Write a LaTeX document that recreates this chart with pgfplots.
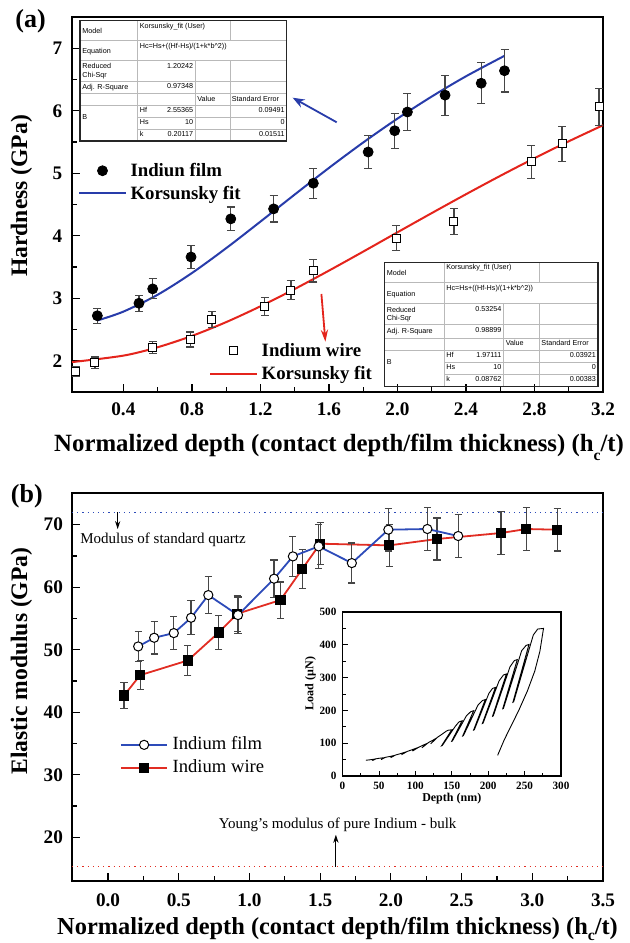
\documentclass[border=0pt]{standalone}
\usepackage{fontspec}
\setmainfont{Liberation Serif}
\newfontfamily\tabfont{Liberation Sans}
\usepackage{pgfplots}
\pgfplotsset{compat=1.18}
\usetikzlibrary{arrows.meta}

\definecolor{fitblue}{RGB}{40,60,170}
\definecolor{fitred}{RGB}{228,36,28}
\definecolor{errgray}{RGB}{70,70,70}
\definecolor{lineblue}{RGB}{45,75,185}
\definecolor{linered}{RGB}{225,45,35}

\pgfplotsset{myaxis/.style={scale only axis, axis line style={line width=0.8pt}, tick align=inside, tick pos=left,
  tick style={black, line width=0.6pt}, major tick length=4pt, minor tick length=2.5pt,
  ticklabel style={font=\fontsize{9.6}{10}\selectfont\bfseries},
  /pgf/number format/assume math mode=true, clip=false}}

\newcommand{\tabf}{\tabfont\fontsize{3.6}{4.3}\selectfont}
\newcommand{\fittable}[6]{%
  \draw[gray!55, line width=0.5pt] (0,20)--(206.5,20) (0,40.3)--(206.5,40.3) (0,60.6)--(206.5,60.6)
     (0,73.3)--(206.5,73.3) (0,85)--(206.5,85) (57.8,97)--(206.5,97) (57.8,108.6)--(206.5,108.6);
  \draw[gray!55, line width=0.5pt] (57.8,0)--(57.8,120.3) (150,0)--(150,20) (115.1,40.3)--(115.1,120.3) (150,40.3)--(150,120.3);
  \draw[black!85, line width=0.7pt] (0,0) rectangle (206.5,120.3);
  \begin{scope}[every node/.style={inner sep=0pt, font=\tabf}]
  \node[anchor=west] at (2,10.5) {Model};
  \node[anchor=north west] at (59.5,1.8) {Korsunsky\_fit (User)};
  \node[anchor=west] at (2,31) {Equation};
  \node[anchor=north west] at (59.5,21.8) {Hc=Hs+((Hf-Hs)/(1+k*b\textasciicircum2))};
  \node[anchor=west, align=left] at (2,50.5) {Reduced\\Chi-Sqr};
  \node[anchor=north east] at (113.5,42) {#1};
  \node[anchor=west] at (2,67) {Adj. R-Square};
  \node[anchor=north east] at (113.5,62.2) {#2};
  \node[anchor=north west] at (117,75) {Value};
  \node[anchor=north west] at (151.5,75) {Standard Error};
  \node[anchor=west] at (2,96.8) {B};
  \node[anchor=north west] at (59.5,86.6) {Hf};
  \node[anchor=north east] at (113.5,86.6) {#3};
  \node[anchor=north east] at (205,86.6) {#4};
  \node[anchor=north west] at (59.5,98.4) {Hs};
  \node[anchor=north east] at (113.5,98.4) {10};
  \node[anchor=north east] at (205,98.4) {0};
  \node[anchor=north west] at (59.5,110) {k};
  \node[anchor=north east] at (113.5,110) {#5};
  \node[anchor=north east] at (205,110) {#6};
  \end{scope}}

\begin{document}
\begin{tikzpicture}
\path[use as bounding box] (0,0) rectangle (314.5pt,471.5pt);

% ---------------- panel (a)
\begin{axis}[myaxis, at={(36pt,275.5pt)}, anchor=south west, width=265.5pt, height=187.5pt,
  xmin=0.1, xmax=3.2, ymin=1.5, ymax=7.5,
  xtick={0.4,0.8,1.2,1.6,2.0,2.4,2.8,3.2}, ytick={2,3,4,5,6,7},
  minor x tick num=1, minor y tick num=1,
  xticklabel style={/pgf/number format/fixed, /pgf/number format/fixed zerofill, /pgf/number format/precision=1, yshift=-1.8pt},
  yticklabel style={xshift=-1.3pt},
  xlabel={Normalized depth (contact depth/film thickness) (h\raisebox{-4.3pt}{\fontsize{7.8}{8}\selectfont c}/t)},
  xlabel style={font=\bfseries\fontsize{12.4}{14}\selectfont, at={(axis description cs:0.503,-0.16)}, anchor=base},
  ylabel={Hardness (GPa)},
  ylabel style={font=\bfseries\fontsize{11.8}{13}\selectfont, at={(axis description cs:-0.095,0.523)}, anchor=center}]
\addplot[fitblue, line width=1pt, smooth] coordinates {(0.25,2.646)(0.4,2.786)(0.6,3.056)(0.8,3.403)(1.0,3.801)(1.2,4.226)(1.4,4.659)(1.6,5.085)(1.8,5.492)(2.0,5.874)(2.2,6.227)(2.4,6.551)(2.625,6.879)};
\addplot[fitred, line width=1pt, smooth] coordinates {(0.1,1.978)(0.4,2.082)(0.6,2.216)(0.8,2.397)(1.0,2.618)(1.2,2.871)(1.4,3.148)(1.6,3.442)(1.8,3.746)(2.0,4.055)(2.2,4.362)(2.4,4.664)(2.6,4.958)(2.8,5.241)(3.0,5.511)(3.2,5.768)};
\addplot[only marks, mark=*, mark size=2.5pt, black,
  error bars/.cd, y dir=both, y explicit, error bar style={errgray, line width=0.6pt},
  error mark options={rotate=90, mark size=2pt, errgray, line width=0.6pt}]
  coordinates {(0.248,2.72)+-(0,0.12) (0.491,2.92)+-(0,0.13) (0.571,3.15)+-(0,0.16) (0.795,3.66)+-(0,0.18)
  (1.027,4.27)+-(0,0.19) (1.277,4.43)+-(0,0.21) (1.509,4.84)+-(0,0.24) (1.829,5.34)+-(0,0.27)
  (1.984,5.68)+-(0,0.28) (2.058,5.98)+-(0,0.30) (2.278,6.25)+-(0,0.32) (2.489,6.44)+-(0,0.33) (2.625,6.64)+-(0,0.34)};
\addplot[only marks, mark=square*, mark size=2pt, mark options={fill=white, draw=black, line width=0.5pt},
  error bars/.cd, y dir=both, y explicit, error bar style={errgray, line width=0.6pt},
  error mark options={rotate=90, mark size=2pt, errgray, line width=0.6pt}]
  coordinates {(0.122,1.83)+-(0,0.08) (0.234,1.97)+-(0,0.09) (0.571,2.21)+-(0,0.10) (0.791,2.34)+-(0,0.12)
  (0.917,2.66)+-(0,0.13) (1.226,2.87)+-(0,0.14) (1.378,3.13)+-(0,0.15) (1.509,3.44)+-(0,0.18)
  (1.993,3.96)+-(0,0.20) (2.330,4.23)+-(0,0.21) (2.781,5.18)+-(0,0.26) (2.961,5.47)+-(0,0.28) (3.177,6.06)+-(0,0.30)};
% legend samples
\addplot[only marks, mark=*, mark size=2.5pt, black] coordinates {(0.278,5.04)};
\addplot[fitblue, line width=1pt] coordinates {(0.143,4.68)(0.416,4.68)};
\addplot[only marks, mark=square*, mark size=2pt, mark options={fill=white, draw=black, line width=0.5pt}] coordinates {(1.043,2.16)};
\addplot[fitred, line width=1pt] coordinates {(0.908,1.786)(1.179,1.786)};
\end{axis}

% ---------------- panel (b)
\begin{axis}[myaxis, at={(36pt,31pt)}, anchor=south west, width=265.5pt, height=194pt,
  xmin=-0.255, xmax=3.5, ymin=13, ymax=75.07,
  xtick={0,0.5,1,1.5,2,2.5,3,3.5}, ytick={20,30,40,50,60,70},
  minor x tick num=1, minor y tick num=1,
  xticklabel style={/pgf/number format/fixed, /pgf/number format/fixed zerofill, /pgf/number format/precision=1, yshift=-3pt},
  yticklabel style={xshift=-1pt},
  xlabel={Normalized depth (contact depth/film thickness) (h\raisebox{-3pt}{\fontsize{7.8}{8}\selectfont c}/t)},
  xlabel style={font=\bfseries\fontsize{12.2}{14}\selectfont, at={(axis description cs:0.5,-0.137)}, anchor=base},
  ylabel={Elastic modulus (GPa)},
  ylabel style={font=\bfseries\fontsize{11.8}{13}\selectfont, at={(axis description cs:-0.095,0.567)}, anchor=center}]
\addplot[lineblue, dotted, line width=0.6pt] coordinates {(-0.255,72)(3.5,72)};
\addplot[linered, dotted, line width=0.6pt] coordinates {(-0.255,15.3)(3.5,15.3)};
\draw[-{Stealth[length=4pt,width=2.6pt]}, line width=0.5pt] (axis cs:0.068,72) -- (axis cs:0.068,69.3);
\draw[-{Stealth[length=4pt,width=2.6pt]}, line width=0.5pt] (axis cs:1.611,15.3) -- (axis cs:1.611,20.4);
\addplot[linered, line width=0.9pt, mark=square*, mark size=2.1pt, mark options={fill=black, draw=black},
  error bars/.cd, y dir=both, y explicit, error bar style={errgray, line width=0.6pt},
  error mark options={rotate=90, mark size=1.8pt, errgray, line width=0.6pt}]
  coordinates {(0.113,42.68)+-(0,2.1) (0.227,45.93)+-(0,2.3) (0.564,48.28)+-(0,2.4) (0.783,52.76)+-(0,2.7)
  (0.913,55.75)+-(0,2.9) (1.219,57.94)+-(0,2.9) (1.373,62.9)+-(0,3.1) (1.500,66.96)+-(0,3.35)
  (1.988,66.69)+-(0,3.4) (2.326,67.71)+-(0,3.35) (2.779,68.67)+-(0,3.4) (2.958,69.31)+-(0,3.45) (3.176,69.2)+-(0,3.4)};
\addplot[lineblue, line width=0.9pt, mark=*, mark size=2.3pt, mark options={fill=white, draw=black, line width=0.5pt},
  error bars/.cd, y dir=both, y explicit, error bar style={errgray, line width=0.6pt},
  error mark options={rotate=90, mark size=1.8pt, errgray, line width=0.6pt}]
  coordinates {(0.213,50.52)+-(0,2.45) (0.326,51.91)+-(0,2.6) (0.465,52.66)+-(0,2.6) (0.587,55.11)+-(0,2.7)
  (0.709,58.74)+-(0,2.95) (0.919,55.54)+-(0,2.9) (1.174,61.36)+-(0,3.0) (1.307,64.93)+-(0,3.2)
  (1.489,66.53)+-(0,3.5) (1.724,63.86)+-(0,3.2) (1.982,69.2)+-(0,3.4) (2.258,69.31)+-(0,3.45) (2.476,68.19)+-(0,3.4)};
% legend samples
\addplot[lineblue, line width=0.9pt, mark=*, mark size=2.3pt, mark options={fill=white, draw=black, line width=0.5pt}, mark indices={2}]
  coordinates {(0.091,34.78)(0.255,34.78)(0.417,34.78)};
\addplot[linered, line width=0.9pt, mark=square*, mark size=2.1pt, mark options={fill=black, draw=black}, mark indices={2}]
  coordinates {(0.091,31.05)(0.255,31.05)(0.417,31.05)};
\end{axis}

% ---------------- inset
\begin{axis}[scale only axis, at={(171.25pt,83.5pt)}, anchor=south west, width=109.25pt, height=82pt,
  axis line style={line width=0.6pt}, tick align=inside, tick pos=left, tick style={black, line width=0.4pt},
  major tick length=2.5pt, minor tick length=1.5pt,
  ticklabel style={font=\fontsize{5.6}{6}\selectfont\bfseries}, /pgf/number format/assume math mode=true,
  xmin=0, xmax=300, ymin=0, ymax=500, xtick={0,50,100,150,200,250,300}, ytick={0,100,200,300,400,500},
  minor x tick num=1, minor y tick num=1,
  xticklabel style={yshift=0.5pt}, yticklabel style={xshift=0.5pt},
  xlabel={Depth (nm)}, xlabel style={font=\bfseries\fontsize{6}{7}\selectfont, at={(axis description cs:0.5,-0.157)}, anchor=base},
  ylabel={Load (μN)}, ylabel style={font=\bfseries\fontsize{6}{7}\selectfont, at={(axis description cs:-0.146,0.564)}, anchor=center}]
\addplot[black, line width=0.45pt] coordinates {
 (32,48)(40,50)(45,52)(41,47)(46,52.5)(52,54.5)(58,56)(53,50)(59,57)(65,59.5)(72,63)(66,56)(73,64)(80,68.5)
 (88,74)(81,65)(89,75)(96,80.5)(104,87)(96,76)(105,88)(110,93.5)(117,100)(109,86)(118,102)(124,109)(130,117)
 (121,98)(131,119)(137,128)(142,136)(145,139.5)(150,141)(136,92)(137,93)(155,152)(160,165)(164,168)
 (150,106)(151,107)(170,183)(176,196)(180,199)(165,122)(166,123)(186,216)(192,230)(196,233)
 (180,140)(181,141)(201,252)(206,267)(210,270)(192,160)(193,161)(215,290)(221,308)(225,311)
 (206,182)(207,183)(230,333)(236,352)(240,355)(220,205)(221,206)(246,382)(252,398)(256,401)
 (234,225)(235,226)(262,430)(268,448)(276,450)(271,380)(264,320)(254,260)(242,200)(232,155)(222,110)(213,63)};
\end{axis}

% ---------------- annotations in pixel coordinates
\begin{scope}[x=0.5pt, y=-0.5pt, shift={(0pt,471.5pt)}]
\node[anchor=base west, inner sep=0, font=\bfseries\fontsize{13}{14}\selectfont] at (15,28) {(a)};
\node[anchor=base west, inner sep=0, font=\bfseries\fontsize{13}{14}\selectfont] at (10.5,503) {(b)};
\node[anchor=base west, inner sep=0, font=\bfseries\fontsize{9.4}{10}\selectfont] at (130.1,176.7) {Indiun film};
\node[anchor=base west, inner sep=0, font=\bfseries\fontsize{9.4}{10}\selectfont] at (130.1,200) {Korsunsky fit};
\node[anchor=base west, inner sep=0, font=\bfseries\fontsize{9.4}{10}\selectfont] at (261.3,356.7) {Indium wire};
\node[anchor=base west, inner sep=0, font=\bfseries\fontsize{9.4}{10}\selectfont] at (261.3,380) {Korsunsky fit};
\draw[fitblue, line width=0.9pt, -{Stealth[length=6pt,width=4.5pt]}] (336.7,122.3) -- (292.6,97.7);
\draw[fitred, line width=0.9pt, -{Stealth[length=6pt,width=3.6pt]}] (321.4,294) -- (325.4,341.7);
\begin{scope}[shift={(80,20.7)}]
\fittable{1.20242}{0.97348}{2.55365}{0.09491}{0.20117}{0.01511}
\end{scope}
\begin{scope}[shift={(384.4,262.3)}, scale=1.034]
\fittable{0.53254}{0.98899}{1.97111}{0.03921}{0.08762}{0.00383}
\end{scope}
\node[anchor=base west, inner sep=0, font=\fontsize{9.3}{10}\selectfont] at (172.3,749.3) {Indium film};
\node[anchor=base west, inner sep=0, font=\fontsize{9.3}{10}\selectfont] at (172.3,772.7) {Indium wire};
\node[anchor=base west, inner sep=0, font=\fontsize{7.5}{8}\selectfont] at (80,543.3) {Modulus of standard quartz};
\node[anchor=base west, inner sep=0, font=\fontsize{7.5}{8}\selectfont] at (218.4,828.3) {Young's modulus of pure Indium - bulk};
\end{scope}
\end{tikzpicture}
\end{document}
